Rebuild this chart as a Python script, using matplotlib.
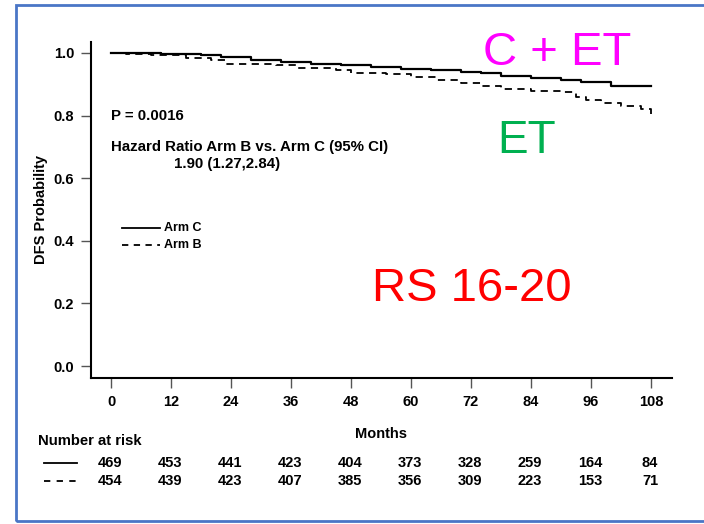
import matplotlib
matplotlib.use("Agg")
import matplotlib.pyplot as plt
from matplotlib.patches import Rectangle
from matplotlib.lines import Line2D

plt.rcParams['font.family'] = ['Liberation Sans', 'DejaVu Sans']

# Kaplan-Meier curves (months, DFS probability)
arm_c_t = [0, 10, 18, 22, 28, 34, 40, 46, 52, 58, 64, 70, 74, 78, 84, 90, 94, 100, 108]
arm_c_s = [1.0, 0.998, 0.993, 0.988, 0.978, 0.972, 0.966, 0.960, 0.955, 0.950,
           0.945, 0.940, 0.935, 0.927, 0.920, 0.915, 0.907, 0.896, 0.896]
arm_b_t = [0, 3, 8, 15, 20, 23, 33, 37, 45, 48, 55, 60, 65, 70, 74, 78, 84, 90,
           93, 95, 98, 102, 106, 108]
arm_b_s = [1.0, 0.997, 0.993, 0.985, 0.978, 0.965, 0.962, 0.953, 0.946, 0.936,
           0.932, 0.922, 0.913, 0.903, 0.894, 0.884, 0.878, 0.875, 0.860, 0.850,
           0.840, 0.830, 0.820, 0.805]

months = [0, 12, 24, 36, 48, 60, 72, 84, 96, 108]
risk_c = [469, 453, 441, 423, 404, 373, 328, 259, 164, 84]
risk_b = [454, 439, 423, 407, 385, 356, 309, 223, 153, 71]
yticks = [0.0, 0.2, 0.4, 0.6, 0.8, 1.0]

fig = plt.figure(figsize=(7.04, 5.24), dpi=100)
fig.patches.append(Rectangle((16 / 704, 3 / 524), 1.2, 516 / 524, transform=fig.transFigure,
                             fill=False, edgecolor='#4a76c6', linewidth=2, zorder=0))

ax = fig.add_axes([91 / 704, 1 - 378 / 524, 581 / 704, 336 / 524])
ax.plot(arm_c_t, arm_c_s, drawstyle='steps-post', color='black', linewidth=1.6)
ax.plot(arm_b_t, arm_b_s, drawstyle='steps-post', color='black', linewidth=1.3,
        dashes=(4, 3))

ax.set_xlim(-4, 112.2)
ax.set_ylim(-0.038, 1.035)
ax.set_xticks(months)
ax.set_yticks(yticks)
ax.set_yticklabels([f'{v:.1f}' for v in yticks])
for s in ['top', 'right']:
    ax.spines[s].set_visible(False)
for s in ['left', 'bottom']:
    ax.spines[s].set_linewidth(1.5)
ax.tick_params(axis='both', length=7, width=1, color='#555555', labelsize=10.5, pad=5)
for lab in ax.get_xticklabels() + ax.get_yticklabels():
    lab.set_fontweight('bold')
ax.set_ylabel('DFS Probability', fontsize=10.5, fontweight='bold', labelpad=4)
ax.set_xlabel('Months', fontsize=10.5, fontweight='bold', labelpad=13)

ax.text(0, 0.80, 'P = 0.0016', fontsize=10.8, fontweight='bold', va='center')
ax.text(0, 0.70, 'Hazard Ratio Arm B vs. Arm C (95% CI)', fontsize=10.8, fontweight='bold', va='center')
ax.text(12.6, 0.645, '1.90 (1.27,2.84)', fontsize=10.8, fontweight='bold', va='center')

ax.plot([2.2, 9.8], [0.44, 0.44], color='black', linewidth=1.3)
ax.plot([2.2, 9.8], [0.387, 0.387], color='black', linewidth=1.3, dashes=(3.5, 3))
ax.text(10.7, 0.44, 'Arm C', fontsize=9, fontweight='bold', va='center')
ax.text(10.7, 0.387, 'Arm B', fontsize=9, fontweight='bold', va='center')

ax.text(74.5, 1.0, 'C + ET', color='#ff00ff', fontsize=34, va='center')
ax.text(77.2, 0.72, 'ET', color='#00b050', fontsize=33, va='center')
ax.text(52.2, 0.246, 'RS 16-20', color='#ff0000', fontsize=34, va='center')

# number at risk table
fig.text(38 / 704, 1 - 441 / 524, 'Number at risk', fontsize=10.7, fontweight='bold', va='center')
fig.add_artist(Line2D([44 / 704, 77 / 704], [1 - 463 / 524] * 2, color='black', linewidth=1.3))
fig.add_artist(Line2D([44 / 704, 77 / 704], [1 - 481 / 524] * 2, color='black', linewidth=1.3,
                      dashes=(3.5, 3.5)))
for m, c, b in zip(months, risk_c, risk_b):
    xf = (110 + 5 * m) / 704
    fig.text(xf, 1 - 463 / 524, str(c), fontsize=10.5, fontweight='bold', ha='center', va='center')
    fig.text(xf, 1 - 481 / 524, str(b), fontsize=10.5, fontweight='bold', ha='center', va='center')

fig.savefig('out.png', dpi=100)
